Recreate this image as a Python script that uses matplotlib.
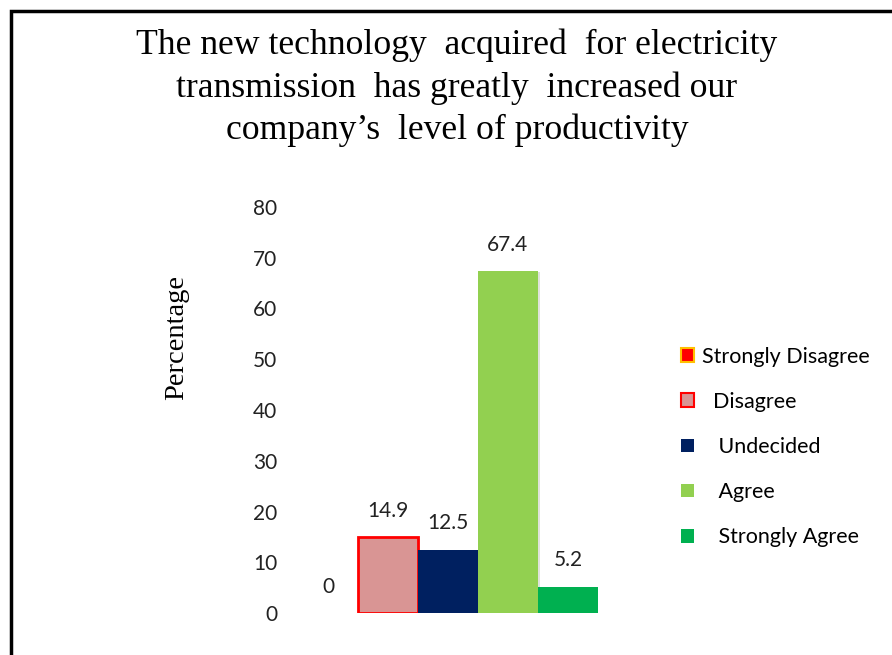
import matplotlib
matplotlib.use("Agg")
import matplotlib.pyplot as plt
import matplotlib.patches as mpatches
import matplotlib.patheffects as pe

categories = ["Strongly Disagree", "Disagree", "Undecided", "Agree", "Strongly Agree"]
legend_labels = ["Strongly Disagree", "  Disagree", "   Undecided", "   Agree", "   Strongly Agree"]
values = [0, 14.9, 12.5, 67.4, 5.2]
value_labels = ["0", "14.9", "12.5", "67.4", "5.2"]
yticks = [0, 10, 20, 30, 40, 50, 60, 70, 80]

colors = ["#FF0000", "#D99594", "#002060", "#92D050", "#00B050"]
edges = ["#FFC000", "#FF0000", "#002060", "#92D050", "#00B050"]

title = ("The new technology  acquired  for electricity\n"
         "transmission  has greatly  increased our\n"
         "company\u2019s  level of productivity")

fig = plt.figure(figsize=(8.92, 6.55), dpi=100)

# outer frame, only top/left visible like the cropped screenshot
fig.patches.append(mpatches.Rectangle((11 / 892, -0.1), 1.2, 1.1 - 11 / 655,
                                      transform=fig.transFigure, fill=False,
                                      edgecolor="black", linewidth=2.5))

fig.text(457 / 892, 1 - 88 / 655, title, ha="center", va="center",
         family="Liberation Serif", fontsize=25.7, linespacing=1.35)

ax = fig.add_axes([298 / 892, (655 - 613) / 655, 300 / 892, 406 / 655])
shadow = [pe.SimplePatchShadow(offset=(1.5, -1), alpha=0.15), pe.Normal()]
for i, (v, c, e) in enumerate(zip(values, colors, edges)):
    lw = 2 if i == 1 else 0
    ax.bar(i, v, width=1.0, color=c, edgecolor=e, linewidth=lw,
           label=legend_labels[i], path_effects=shadow if v > 0 else None)
    ax.annotate(value_labels[i], (i, v), xytext=(0, 19), textcoords="offset points",
                ha="center", va="center", family="Lato", fontsize=15, color="#222222")

ax.set_xlim(-0.5, 4.5)
ax.set_ylim(0, 80)
ax.set_yticks(yticks)
ax.set_xticks([])
for s in ax.spines.values():
    s.set_visible(False)
ax.tick_params(axis="y", length=0, pad=15)
for lab in ax.get_yticklabels():
    lab.set_family("Lato")
    lab.set_fontsize(15)
    lab.set_color("#222222")

fig.text(177 / 892, 1 - 338 / 655, "Percentage", rotation=90, ha="center", va="center",
         family="Liberation Serif", fontsize=20.5)

handles = [mpatches.Patch(facecolor=c, edgecolor=e, linewidth=1.5 if i < 2 else 0)
           for i, (c, e) in enumerate(zip(colors, edges))]
fig.legend(handles, legend_labels, loc="upper left", bbox_to_anchor=(672 / 892, 1 - 338 / 655),
           frameon=False, handlelength=0.6, handleheight=0.6, handletextpad=0.4,
           labelspacing=1.17, prop={"family": "Lato", "size": 15.5}, borderaxespad=0)

fig.savefig("out.png", dpi=100)
